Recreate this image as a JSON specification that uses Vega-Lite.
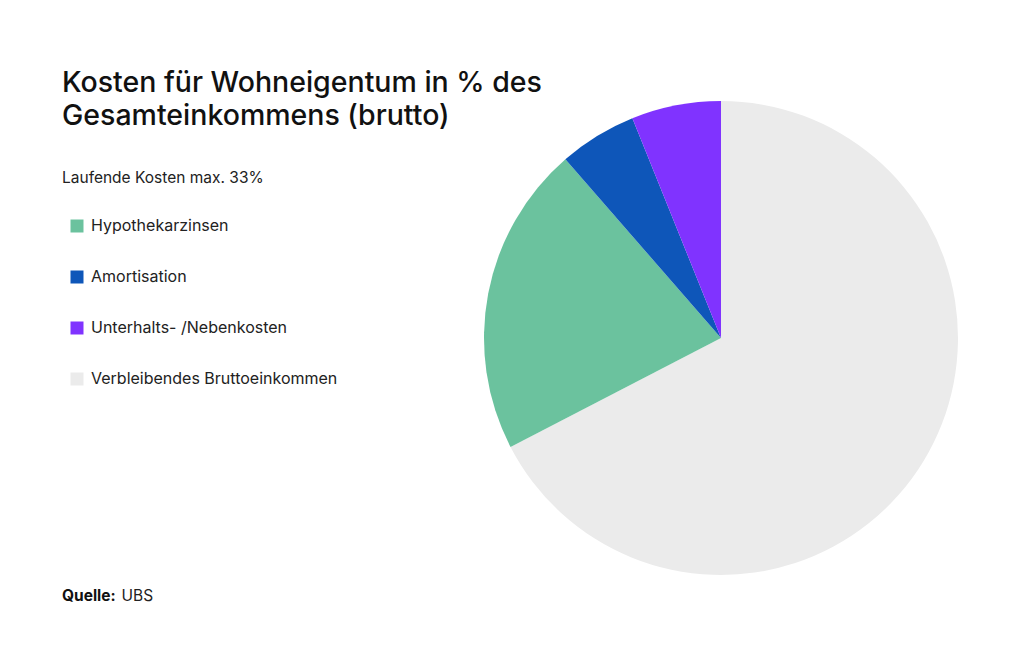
{
  "$schema": "https://vega.github.io/schema/vega-lite/v6.json",
  "width": 474,
  "height": 474,
  "autosize": {"type": "none"},
  "padding": {"left": 484, "top": 101, "right": 66, "bottom": 84},
  "background": "white",
  "title": {
    "text": ["Kosten für Wohneigentum in % des", "Gesamteinkommens (brutto)"],
    "subtitle": "Laufende Kosten max. 33%",
    "anchor": "start",
    "dx": 0,
    "dy": 89,
    "font": "Inter",
    "fontSize": 28.5,
    "fontWeight": 500,
    "lineHeight": 33,
    "color": "#111111",
    "subtitleFont": "Inter",
    "subtitleFontSize": 15.5,
    "subtitleColor": "#222222",
    "subtitlePadding": 40
  },
  "data": {
    "values": [
      {"kategorie": "Verbleibendes Bruttoeinkommen", "anteil": 67.4, "rang": 1, "quelle": "UBS"},
      {"kategorie": "Hypothekarzinsen", "anteil": 21.2, "rang": 2, "quelle": "UBS"},
      {"kategorie": "Amortisation", "anteil": 5.3, "rang": 3, "quelle": "UBS"},
      {"kategorie": "Unterhalts- /Nebenkosten", "anteil": 6.1, "rang": 4, "quelle": "UBS"}
    ]
  },
  "mark": {"type": "arc", "strokeWidth": 0},
  "encoding": {
    "theta": {"field": "anteil", "type": "quantitative", "stack": true},
    "order": {"field": "rang", "type": "quantitative"},
    "color": {
      "field": "kategorie",
      "type": "nominal",
      "scale": {
        "domain": ["Hypothekarzinsen", "Amortisation", "Unterhalts- /Nebenkosten", "Verbleibendes Bruttoeinkommen"],
        "range": ["#6bc29e", "#0e56b9", "#8033ff", "#ebebeb"]
      },
      "legend": {
        "title": null,
        "orient": "none",
        "legendX": -415,
        "legendY": 117,
        "padding": 0,
        "symbolType": "square",
        "symbolSize": 169,
        "symbolStrokeWidth": 0,
        "labelFont": "Inter",
        "labelFontSize": 16,
        "labelColor": "#222222",
        "labelOffset": 6,
        "rowPadding": 35,
        "labelLimit": 400
      }
    },
    "stroke": {
      "field": "quelle",
      "type": "nominal",
      "scale": {"range": ["#ffffff"]},
      "legend": {
        "title": "Quelle:",
        "titleOrient": "left",
        "titleFont": "Inter",
        "titleFontSize": 15.5,
        "titleFontWeight": 700,
        "titleColor": "#111111",
        "titlePadding": 4,
        "titleBaseline": "middle",
        "orient": "none",
        "legendX": -422,
        "legendY": 487,
        "padding": 0,
        "symbolSize": 0,
        "symbolOpacity": 0,
        "labelFont": "Inter",
        "labelFontSize": 15.5,
        "labelColor": "#222222",
        "labelOffset": -14
      }
    }
  },
  "config": {"view": {"stroke": null}}
}
